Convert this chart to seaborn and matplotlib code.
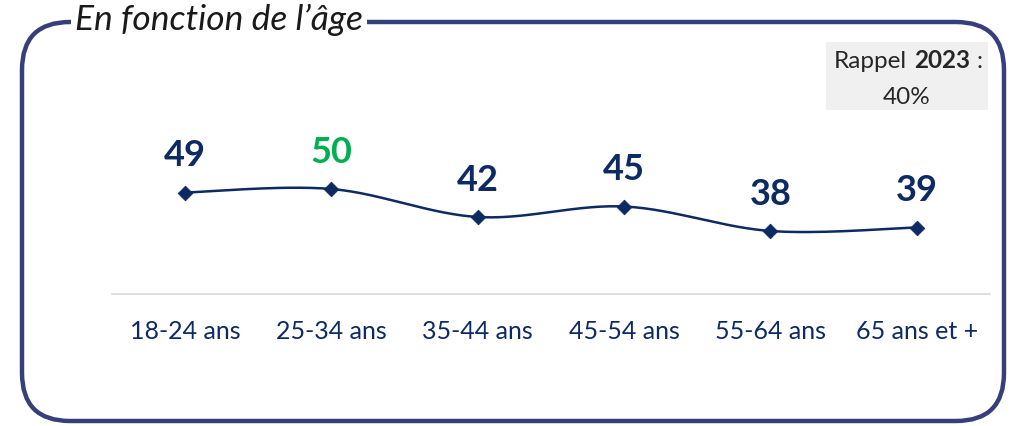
import numpy as np
import pandas as pd
import seaborn as sns
import matplotlib.pyplot as plt
from matplotlib.patches import FancyBboxPatch, Rectangle

# data
categories = ['18-24 ans', '25-34 ans', '35-44 ans', '45-54 ans', '55-64 ans', '65 ans et +']
values = [49, 50, 42, 45, 38, 39]
label_colors = ['#0e2a63', '#00b050', '#0e2a63', '#0e2a63', '#0e2a63', '#0e2a63']
title = "En fonction de l\u2019\u00e2ge"
rappel_year = '2023'
rappel_value = '40%'

NAVY = '#0e2a63'
FRAME = '#363f7a'

sns.set_style('white')
plt.rcParams['font.family'] = ['Lato', 'DejaVu Sans']

W, H = 1012, 426
fig = plt.figure(figsize=(W / 100, H / 100), dpi=100)

# background axes in pixel units for the rounded frame
bg = fig.add_axes([0, 0, 1, 1])
bg.set_xlim(0, W)
bg.set_ylim(H, 0)
bg.axis('off')
frame = FancyBboxPatch((22, 22), 982, 399, boxstyle='round,pad=0,rounding_size=48',
                       fc='none', ec=FRAME, lw=3.2)
bg.add_patch(frame)
bg.text(75, 20, title, fontsize=25.5, style='italic', color='#1a1a1a', va='center', ha='left',
        bbox=dict(fc='white', ec='none', pad=3))

# rappel box
bg.add_patch(Rectangle((826, 42), 162, 68, fc='#f0f0f0', ec='none'))
bg.text(907, 61, 'Rappel', fontsize=17.5, color='#262626', ha='right', va='center')
bg.text(914, 61, rappel_year, fontsize=17.5, color='#262626', ha='left', va='center', fontweight='bold')
bg.text(977, 61, ':', fontsize=17.5, color='#262626', ha='left', va='center')
bg.text(907, 97, rappel_value, fontsize=17.5, color='#262626', ha='center', va='center')

# main chart
ax = fig.add_axes([112 / W, (H - 294) / H, 878 / W, 234 / H])
ax.patch.set_alpha(0)
x = np.arange(len(values))
df = pd.DataFrame({'x': x, 'value': values})

# smooth curve (Catmull-Rom through the data points)
pts = np.column_stack([x, values]).astype(float)
ext = np.vstack([pts[0], pts, pts[-1]])
curve = []
for i in range(1, len(ext) - 2):
    p0, p1, p2, p3 = ext[i - 1], ext[i], ext[i + 1], ext[i + 2]
    for t in np.linspace(0, 1, 30, endpoint=False):
        t2, t3 = t * t, t * t * t
        curve.append(0.5 * ((2 * p1) + (-p0 + p2) * t + (2 * p0 - 5 * p1 + 4 * p2 - p3) * t2
                            + (-p0 + 3 * p1 - 3 * p2 + p3) * t3))
curve.append(pts[-1])
curve = np.array(curve)
smooth = pd.DataFrame({'x': curve[:, 0], 'value': curve[:, 1]})

sns.lineplot(data=smooth, x='x', y='value', ax=ax, color=NAVY, lw=1.8, sort=False, estimator=None)
sns.scatterplot(data=df, x='x', y='value', ax=ax, color=NAVY, marker='D', s=55, edgecolor=NAVY, zorder=3)

for xi, v, c in zip(x, values, label_colors):
    ax.annotate(str(v), (xi, v), xytext=(0, 19), textcoords='offset points', ha='center',
                va='baseline', fontsize=26, fontweight='bold', color=c)

ax.set_xlim(-0.5, len(values) - 0.5)
ax.set_ylim(20, 20 + 234 / 3.5)
ax.set_xticks(x)
ax.set_xticklabels(categories, fontsize=18, color=NAVY)
ax.set_yticks([])
ax.set_xlabel('')
ax.set_ylabel('')
ax.tick_params(axis='x', length=0, pad=19)
for s in ['top', 'left', 'right']:
    ax.spines[s].set_visible(False)
ax.spines['bottom'].set_color('#d9d9d9')
ax.spines['bottom'].set_linewidth(1.2)

fig.savefig('out.png', dpi=100)
